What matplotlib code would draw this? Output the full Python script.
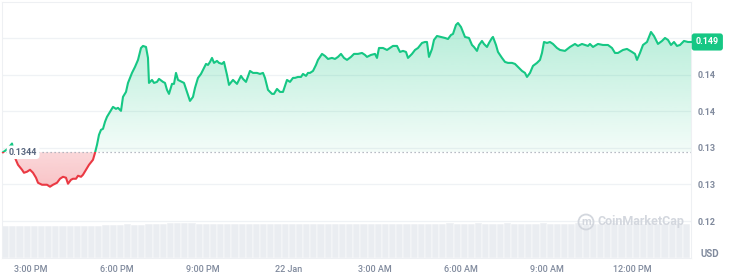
import numpy as np
import matplotlib
matplotlib.use("Agg")
import matplotlib.pyplot as plt
from matplotlib.path import Path
from matplotlib.patches import Rectangle, Circle

# ---------------- data ----------------
# hours since 21 Jan 14:00
hours = [0.035, 0.209, 0.349, 0.453, 0.558, 0.698, 0.767, 0.872, 0.977, 1.081,
         1.186, 1.256, 1.395, 1.570, 1.674, 1.779, 1.918, 2.023, 2.128, 2.232,
         2.302, 2.407, 2.476, 2.581, 2.651, 2.756, 2.825, 2.930, 3.035, 3.174,
         3.244, 3.314, 3.383, 3.453, 3.523, 3.593, 3.662, 3.767, 3.872, 3.976,
         4.046, 4.151, 4.220, 4.325, 4.395, 4.534, 4.639, 4.744, 4.848, 4.918,
         5.023, 5.092, 5.127, 5.232, 5.302, 5.406, 5.476, 5.616, 5.685, 5.755,
         5.825, 5.930, 5.999, 6.069, 6.139, 6.278, 6.348, 6.453, 6.557, 6.662,
         6.732, 6.836, 6.941, 7.011, 7.116, 7.185, 7.255, 7.325, 7.395, 7.499,
         7.569, 7.674, 7.743, 7.848, 7.918, 8.057, 8.197, 8.336, 8.406, 8.511,
         8.650, 8.755, 8.894, 8.999, 9.104, 9.173, 9.278, 9.418, 9.487, 9.592,
         9.697, 9.801, 9.941, 10.045, 10.150, 10.220, 10.324, 10.429, 10.499, 10.604,
         10.673, 10.743, 10.848, 10.952, 11.022, 11.162, 11.266, 11.371, 11.510, 11.615,
         11.720, 11.824, 11.929, 12.034, 12.173, 12.278, 12.417, 12.557, 12.661, 12.731,
         12.871, 13.010, 13.080, 13.150, 13.289, 13.429, 13.533, 13.638, 13.778, 13.882,
         13.987, 14.092, 14.161, 14.301, 14.406, 14.510, 14.650, 14.754, 14.824, 14.894,
         14.999, 15.068, 15.173, 15.312, 15.452, 15.556, 15.661, 15.731, 15.835, 15.905,
         16.010, 16.080, 16.149, 16.289, 16.394, 16.463, 16.568, 16.638, 16.742, 16.812,
         16.917, 16.987, 17.091, 17.126, 17.231, 17.300, 17.440, 17.545, 17.649, 17.789,
         17.893, 17.998, 18.138, 18.242, 18.312, 18.417, 18.521, 18.661, 18.765, 18.835,
         18.905, 19.010, 19.114, 19.219, 19.358, 19.463, 19.637, 19.812, 19.986, 20.090,
         20.230, 20.335, 20.439, 20.509, 20.614, 20.788, 20.963, 21.137, 21.277, 21.382,
         21.486, 21.660, 21.800, 21.974, 22.079, 22.149, 22.253, 22.358, 22.498, 22.637,
         22.742, 22.881, 23.021, 23.126, 23.230, 23.335, 23.440, 23.544, 23.649, 23.788,
         23.928, 24.033]

prices = [0.13440, 0.13490, 0.13560, 0.13365, 0.13269, 0.13201, 0.13160, 0.13174, 0.13201, 0.13160,
          0.13092, 0.13023, 0.12996, 0.12996, 0.12969, 0.12996, 0.13023, 0.13078, 0.13105, 0.13092,
          0.13010, 0.13064, 0.13078, 0.13078, 0.13119, 0.13105, 0.13133, 0.13201, 0.13269, 0.13338,
          0.13433, 0.13543, 0.13679, 0.13747, 0.13761, 0.13857, 0.13925, 0.13993, 0.14061, 0.14034,
          0.14048, 0.14007, 0.14198, 0.14266, 0.14389, 0.14526, 0.14608, 0.14704, 0.14867, 0.14895,
          0.14881, 0.14731, 0.14389, 0.14430, 0.14389, 0.14403, 0.14444, 0.14403, 0.14389, 0.14294,
          0.14239, 0.14376, 0.14376, 0.14526, 0.14430, 0.14403, 0.14389, 0.14266, 0.14143, 0.14198,
          0.14321, 0.14458, 0.14512, 0.14567, 0.14649, 0.14635, 0.14676, 0.14731, 0.14663, 0.14690,
          0.14663, 0.14649, 0.14676, 0.14499, 0.14362, 0.14430, 0.14376, 0.14485, 0.14444, 0.14403,
          0.14553, 0.14526, 0.14526, 0.14512, 0.14526, 0.14458, 0.14294, 0.14239, 0.14239, 0.14307,
          0.14266, 0.14266, 0.14430, 0.14403, 0.14458, 0.14458, 0.14471, 0.14471, 0.14512, 0.14485,
          0.14526, 0.14526, 0.14553, 0.14635, 0.14704, 0.14786, 0.14758, 0.14717, 0.14731, 0.14717,
          0.14745, 0.14786, 0.14731, 0.14704, 0.14745, 0.14786, 0.14786, 0.14799, 0.14772, 0.14745,
          0.14772, 0.14786, 0.14731, 0.14867, 0.14867, 0.14840, 0.14867, 0.14895, 0.14895, 0.14813,
          0.14827, 0.14813, 0.14731, 0.14786, 0.14840, 0.14867, 0.14936, 0.14949, 0.14949, 0.14745,
          0.14854, 0.14977, 0.15031, 0.15018, 0.15004, 0.14990, 0.15045, 0.15059, 0.15182, 0.15209,
          0.15154, 0.15086, 0.15018, 0.15004, 0.14908, 0.14881, 0.14827, 0.14908, 0.14963, 0.14922,
          0.14881, 0.14936, 0.15004, 0.15018, 0.14908, 0.14813, 0.14731, 0.14676, 0.14663, 0.14663,
          0.14649, 0.14608, 0.14553, 0.14526, 0.14471, 0.14526, 0.14622, 0.14663, 0.14704, 0.14799,
          0.14949, 0.14936, 0.14949, 0.14922, 0.14867, 0.14840, 0.14827, 0.14881, 0.14922, 0.14895,
          0.14922, 0.14908, 0.14895, 0.14922, 0.14881, 0.14922, 0.14908, 0.14908, 0.14867, 0.14799,
          0.14799, 0.14840, 0.14854, 0.14813, 0.14786, 0.14704, 0.14799, 0.14908, 0.14949, 0.15086,
          0.15031, 0.14922, 0.14963, 0.15004, 0.14977, 0.14908, 0.14949, 0.14895, 0.14908, 0.14963,
          0.14949, 0.14949]

open_price = 0.1344
last_label = "0.149"

# volume (arbitrary units), 15-minute buckets
volume = [2.00, 1.98, 2.01, 1.99, 2.00, 2.02, 1.99, 2.00, 1.98, 2.01, 2.00, 1.99, 2.02, 2.03,
          2.08, 2.09, 2.07, 2.10, 2.09, 2.08, 2.10, 2.11, 2.12,
          2.16, 2.19, 2.21, 2.17,
          2.12, 2.13, 2.11, 2.12, 2.14, 2.12, 2.11, 2.13, 2.12, 2.12, 2.10, 2.13, 2.12, 2.11,
          2.12, 2.13, 2.12, 2.11, 2.12, 2.10, 2.12, 2.13, 2.12, 2.11, 2.12, 2.13, 2.12, 2.11,
          2.12, 2.13, 2.12, 2.12, 2.11, 2.12,
          2.15, 2.16, 2.14, 2.15, 2.15, 2.16, 2.15, 2.14, 2.15, 2.16, 2.15, 2.15, 2.14, 2.15,
          2.16, 2.15, 2.15, 2.14, 2.15, 2.16, 2.15, 2.15, 2.14, 2.15, 2.16, 2.15, 2.14, 2.15,
          2.15, 2.16, 2.15, 2.14, 2.15, 2.15, 2.14]
volume_bucket_hours = 0.25

tick_hours = [1, 4, 7, 10, 13, 16, 19, 22]
tick_labels = ["3:00 PM", "6:00 PM", "9:00 PM", "22 Jan", "3:00 AM", "6:00 AM", "9:00 AM", "12:00 PM"]
ytick_values = [0.125, 0.130, 0.135, 0.140, 0.145]
ygrid_values = [0.125, 0.130, 0.135, 0.140, 0.145, 0.150]

# ---------------- style ----------------
GREEN = "#16c784"
RED = "#ea3943"
GRAY_TXT = "#808a9d"
GRID = "#eff2f5"
FONT = ["Roboto", "DejaVu Sans"]
plt.rcParams["font.family"] = FONT

x = np.array(hours)
y = np.array(prices)

fig = plt.figure(figsize=(7.29, 2.75), dpi=100)
W, H = 729, 275
ax = fig.add_axes([2 / W, (H - 258) / H, (691 - 2) / W, (258 - 2) / H])

xmin, xmax = 0.0, 24.033
ymin, ymax = 0.11994, 0.15496

# volume on twin axis
axv = ax.twinx()
axv.set_zorder(0)
ax.set_zorder(1)
ax.patch.set_visible(False)
vx = np.arange(len(volume)) * volume_bucket_hours
axv.bar(vx, volume, width=volume_bucket_hours, align="edge", color="#eaedf1",
        edgecolor="white", linewidth=0.35)
axv.set_ylim(0, 16.0)
axv.set_yticks([])
for s in axv.spines.values():
    s.set_visible(False)

# grid lines
for g in ygrid_values:
    ax.axhline(g, color=GRID, lw=0.9, zorder=1)

# gradient fills
def gradient_fill(mask_above, extent, alphas, color):
    if mask_above:
        coll = ax.fill_between(x, y, open_price, where=y >= open_price, interpolate=True,
                               facecolor="none", edgecolor="none")
    else:
        coll = ax.fill_between(x, y, open_price, where=y <= open_price, interpolate=True,
                               facecolor="none", edgecolor="none")
    paths = coll.get_paths()
    if not paths:
        return
    comp = Path.make_compound_path(*paths)
    rgb = matplotlib.colors.to_rgb(color)
    n = 256
    a = np.linspace(alphas[0], alphas[1], n).reshape(n, 1)
    img = np.zeros((n, 1, 4))
    img[:, :, 0], img[:, :, 1], img[:, :, 2] = rgb
    img[:, :, 3] = a
    im = ax.imshow(img, extent=extent, origin="lower", aspect="auto", zorder=2,
                   interpolation="bilinear")
    im.set_clip_path(comp, transform=ax.transData)

gradient_fill(True, [xmin, xmax, open_price, y.max()], (0.05, 0.32), GREEN)
gradient_fill(False, [xmin, xmax, y.min(), open_price], (0.30, 0.2), RED)

# baseline dotted
ax.axhline(open_price, color="#a1a7b3", lw=0.9, ls=(0, (1, 2.2)), zorder=3)

# price line, green above / red below
lg, = ax.plot(x, y, color=GREEN, lw=1.5, zorder=4, solid_joinstyle="round")
lr, = ax.plot(x, y, color=RED, lw=1.5, zorder=4, solid_joinstyle="round")
lg.set_clip_path(Rectangle((xmin - 1, open_price), 30, 1, transform=ax.transData))
lr.set_clip_path(Rectangle((xmin - 1, open_price - 1), 30, 1, transform=ax.transData))

ax.set_xlim(xmin, xmax)
ax.set_ylim(ymin, ymax)

# axes styling
for s in ax.spines.values():
    s.set_color("#eef0f3")
    s.set_linewidth(0.8)
ax.tick_params(axis="both", length=0)
ax.set_xticks(tick_hours)
ax.set_xticklabels(tick_labels, fontsize=6.5, color=GRAY_TXT, fontweight="medium")
ax.tick_params(axis="x", pad=5)
ax.yaxis.tick_right()
ax.set_yticks(ytick_values)
ax.set_yticklabels([f"{int(v * 100 + 1e-9) / 100:.2f}" for v in ytick_values],
                   fontsize=6.5, color=GRAY_TXT, fontweight="bold")
ax.tick_params(axis="y", pad=5)

# open price label
ax.annotate(f"{open_price:.4f}", xy=(0, open_price), xycoords=("axes fraction", "data"),
            xytext=(5, 0), textcoords="offset points", ha="left", va="center",
            fontsize=6.5, color="#58667e", fontweight="bold", zorder=6,
            bbox=dict(boxstyle="round,pad=0.25,rounding_size=0.4", fc="white", ec="none"))

# last price badge
ax.annotate(last_label, xy=(1, y[-1]), xycoords=("axes fraction", "data"),
            xytext=(3.4, 0), textcoords="offset points", ha="left", va="center",
            fontsize=6.5, color="white", fontweight="bold", zorder=6, annotation_clip=False,
            bbox=dict(boxstyle="round,pad=0.45,rounding_size=0.3", fc=GREEN, ec="none"))

# USD label
fig.text(710 / W, (H - 254) / H, "USD", ha="center", va="center", fontsize=7,
         color=GRAY_TXT, fontweight="bold")

# watermark
wm_color = "#d3d7de"
fig.text(597 / W, (H - 222) / H, "CoinMarketCap", ha="left", va="center",
         fontsize=9, color=wm_color, fontweight="bold")
circ = Circle((586 / 100, (H - 222) / 100), 0.075, transform=fig.dpi_scale_trans,
              fill=False, ec=wm_color, lw=1.3)
fig.patches.append(circ)
fig.text(586 / W, (H - 222) / H, "m", ha="center", va="center", fontsize=8,
         color=wm_color, fontweight="bold")

fig.savefig("out.png", dpi=100, facecolor="white")
